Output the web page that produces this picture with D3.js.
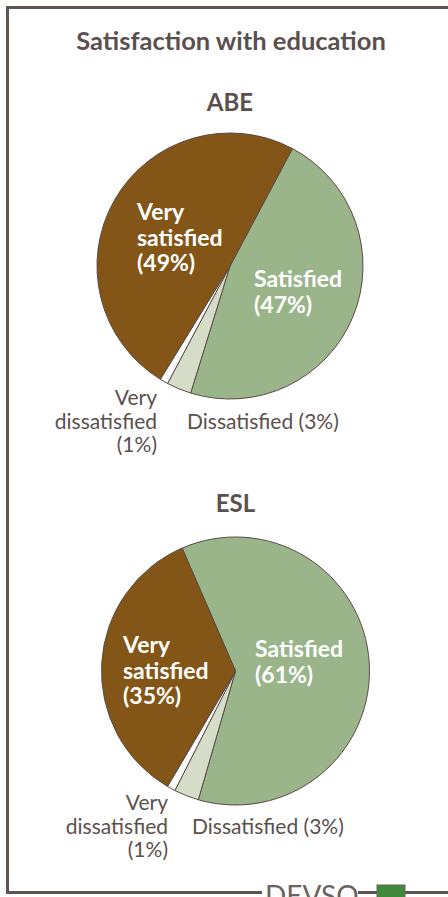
<!DOCTYPE html>
<html><head><meta charset="utf-8">
<script src="https://cdn.jsdelivr.net/npm/d3@7"></script>
<style>html,body{margin:0;padding:0;background:#fff;}svg{display:block;}</style>
</head><body>
<script>
const chartTitle = "Satisfaction with education";
const categories = ["Satisfied", "Dissatisfied", "Very dissatisfied", "Very satisfied"];
const groups = ["ABE", "ESL"];
const abeValues = [47, 3, 1, 49];
const eslValues = [61, 3, 1, 35];
const seriesValues = [abeValues, eslValues];

const W = 448, H = 897;
const textCol = "#5b504d";
const colors = {"Satisfied":"#9bb58a","Dissatisfied":"#d5ddc9","Very dissatisfied":"#ffffff","Very satisfied":"#835617"};
const font = "Lato, 'Open Sans', sans-serif";

const svg = d3.select("body").append("svg").attr("width", W).attr("height", H);

// frame
svg.append("path").attr("d", "M448,7.5 H7.5 V892.5 H262").attr("fill","none").attr("stroke","#5e5452").attr("stroke-width",3);
svg.append("path").attr("d", "M358,892.5 H377 M405,892.5 H448").attr("fill","none").attr("stroke","#5e5452").attr("stroke-width",3);
svg.append("rect").attr("x",377).attr("y",885).attr("width",28).attr("height",14).attr("fill","#3e8a3a").attr("stroke","#6b6260").attr("stroke-width",1);
svg.append("text").attr("x",265).attr("y",906).attr("font-family",font).attr("font-size",28).attr("fill","#6b6260").text("DEVSO");

svg.append("text").attr("x",231).attr("y",50).attr("text-anchor","middle").attr("font-family",font)
  .attr("font-weight","bold").attr("font-size",25.5).attr("fill",textCol).text(chartTitle);

const layouts = [
  {cx:230, cy:266, r:133, start:28, headY:111,
   inLabels:{"Very satisfied":{x:137,y:220,anchor:"start"}, "Satisfied":{x:254,y:287,anchor:"start"}},
   outLabels:{"Very dissatisfied":{x:157,y:405,anchor:"end"}, "Dissatisfied":{x:187,y:429,anchor:"start"}}},
  {cx:235.5, cy:671, r:134, start:-23.5, headY:512,
   inLabels:{"Very satisfied":{x:123,y:653,anchor:"start"}, "Satisfied":{x:255,y:657,anchor:"start"}},
   outLabels:{"Very dissatisfied":{x:168,y:810,anchor:"end"}, "Dissatisfied":{x:192,y:834,anchor:"start"}}}
];

groups.forEach((g, gi) => {
  const L = layouts[gi];
  const vals = seriesValues[gi];
  const data = categories.map((c, i) => ({cat:c, value:vals[i]}));
  const s = L.start * Math.PI / 180;
  const pie = d3.pie().value(d => d.value).sort(null).startAngle(s).endAngle(s + 2*Math.PI);
  const arc = d3.arc().innerRadius(0).outerRadius(L.r);
  const gg = svg.append("g").attr("transform", `translate(${L.cx},${L.cy})`);
  gg.selectAll("path").data(pie(data)).join("path")
    .attr("d", arc).attr("fill", d => colors[d.data.cat])
    .attr("stroke", "#5a4a46").attr("stroke-width", 1).attr("stroke-linejoin","round");

  svg.append("text").attr("x", L.cx).attr("y", L.headY).attr("text-anchor","middle")
    .attr("font-family",font).attr("font-weight","bold").attr("font-size",24).attr("fill",textCol).text(g);

  data.forEach(d => {
    const pct = `(${d.value}%)`;
    if (L.inLabels[d.cat]) {
      const p = L.inLabels[d.cat];
      const words = d.cat.split(" ");
      const lines = words.concat([pct]);
      const t = svg.append("text").attr("font-family",font).attr("font-weight","bold").attr("font-size",23)
        .attr("fill","#fff").attr("text-anchor",p.anchor);
      lines.forEach((ln, i) => t.append("tspan").attr("x",p.x).attr("y",p.y + i*25.5).text(ln));
    } else if (L.outLabels[d.cat]) {
      const p = L.outLabels[d.cat];
      const lines = d.cat === "Very dissatisfied" ? ["Very","dissatisfied",pct] : [d.cat + " " + pct];
      const t = svg.append("text").attr("font-family",font).attr("font-size",21)
        .attr("fill",textCol).attr("text-anchor",p.anchor);
      lines.forEach((ln, i) => t.append("tspan").attr("x",p.x).attr("y",p.y + i*23.5).text(ln));
    }
  });
});
</script>
</body></html>
